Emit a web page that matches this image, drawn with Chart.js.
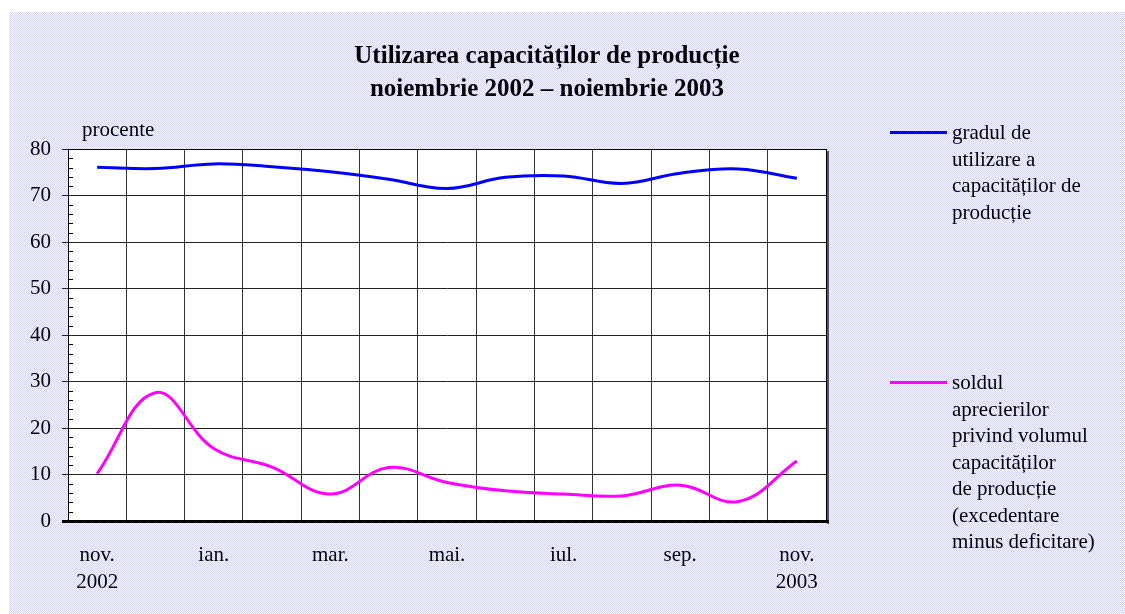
<!DOCTYPE html>
<html>
<head>
<meta charset="utf-8">
<script src="https://cdn.jsdelivr.net/npm/chart.js@4.4.0/dist/chart.umd.min.js"></script>
<style>
  html, body { margin: 0; padding: 0; background: #ffffff; }
  #wrap { position: relative; width: 1125px; height: 614px; overflow: hidden; }
  #bg { position: absolute; left: 9px; top: 12px; width: 1116px; height: 602px;
        background: repeating-conic-gradient(#d6d6f4 0 25%, #f6f6ff 0 50%) 0 0 / 2px 2px; }
  #c { position: absolute; left: 0; top: 0; }
  .t { position: absolute; font-family: "Liberation Serif", "Times New Roman", serif; color: #000; white-space: nowrap; }
  #title { left: 0; width: 1094px; top: 38px; text-align: center; font-weight: bold; font-size: 25px; line-height: 33px; }
  #proc { left: 82px; top: 117px; font-size: 21px; }
  .leg { left: 952px; font-size: 21px; line-height: 26.5px; }
  .sw { position: absolute; left: 890px; width: 57px; height: 3px; }
</style>
</head>
<body>
<div id="wrap">
  <div id="bg"></div>
  <canvas id="c" width="1125" height="614"></canvas>
  <div class="t" id="title">Utilizarea capacităților de producție<br>noiembrie 2002 – noiembrie 2003</div>
  <div class="t" id="proc">procente</div>
  <div class="sw" style="top:131px;background:#0000ff"></div>
  <div class="t leg" style="top:119px">gradul de<br>utilizare a<br>capacităților de<br>producție</div>
  <div class="sw" style="top:381px;background:#ff00ff"></div>
  <div class="t leg" style="top:369px">soldul<br>aprecierilor<br>privind volumul<br>capacităților<br>de producție<br>(excedentare<br>minus deficitare)</div>
</div>
<script>
const categories = ['nov. 2002','dec.','ian.','feb.','mar.','apr.','mai.','iun.','iul.','aug.','sep.','oct.','nov. 2003'];
const tickLabels = [['nov.','2002'],'', 'ian.','', 'mar.','', 'mai.','', 'iul.','', 'sep.','', ['nov.','2003']];
const utilizare = [76.1, 75.8, 76.8, 76.2, 75.1, 73.5, 71.5, 73.9, 74.2, 72.6, 74.8, 75.7, 73.7];
const sold = [10.2, 27.6, 15.6, 11.6, 5.8, 11.5, 8.3, 6.5, 5.8, 5.4, 7.7, 4.2, 12.9];
const yMin = 0, yMax = 80, yStep = 10, yMinorStep = 2;

const framePlugin = {
  id: 'frame',
  beforeDraw(chart) {
    const a = chart.chartArea, ctx = chart.ctx;
    ctx.save();
    ctx.fillStyle = '#ffffff';
    ctx.fillRect(a.left, a.top, a.right - a.left, a.bottom - a.top);
    ctx.restore();
  },
  afterDatasetsDraw(chart) {
    const a = chart.chartArea, ctx = chart.ctx, y = chart.scales.y;
    ctx.save();
    ctx.strokeStyle = '#000';
    ctx.lineWidth = 1;
    ctx.strokeRect(a.left + 0.5, a.top + 0.5, a.right - a.left, a.bottom - a.top);
    ctx.fillStyle = '#555';
    ctx.fillRect(a.right + 1, a.top + 2, 2, a.bottom - a.top + 1);
    ctx.fillStyle = '#000';
    ctx.fillRect(a.left - 6, a.bottom - 1, a.right - a.left + 9, 3);
    ctx.beginPath();
    for (let v = yMin; v <= yMax; v += yMinorStep) {
      if (v % yStep === 0) continue;
      const py = Math.round(y.getPixelForValue(v)) + 0.5;
      ctx.moveTo(a.left, py);
      ctx.lineTo(a.left + 5, py);
    }
    ctx.stroke();
    ctx.restore();
  }
};

new Chart(document.getElementById('c'), {
  type: 'line',
  data: {
    labels: categories,
    datasets: [
      { label: 'gradul de utilizare a capacităților de producție', data: utilizare,
        borderColor: '#0000ff', borderWidth: 3, pointRadius: 0, tension: 0.4, fill: false },
      { label: 'soldul aprecierilor privind volumul capacităților de producție (excedentare minus deficitare)', data: sold,
        borderColor: '#ff00ff', borderWidth: 3, pointRadius: 0, tension: 0.4, fill: false }
    ]
  },
  options: {
    responsive: false,
    animation: false,
    devicePixelRatio: 1,
    layout: { padding: { top: 149, right: 299, bottom: 0, left: 0 } },
    plugins: { legend: { display: false }, title: { display: false }, tooltip: { enabled: false } },
    scales: {
      x: {
        type: 'category',
        offset: true,
        afterFit(s) { s.height = 93; },
        grid: { offset: true, color: '#333', lineWidth: 1, drawTicks: false },
        border: { display: false },
        ticks: {
          autoSkip: false, maxRotation: 0, minRotation: 0, padding: 21,
          color: '#000', font: { family: 'Liberation Serif', size: 21, lineHeight: 1.3 },
          callback: (v, i) => tickLabels[i]
        }
      },
      y: {
        min: yMin, max: yMax,
        afterFit(s) { s.width = 68; },
        grid: { color: '#222', lineWidth: 1, tickLength: 6 },
        border: { display: true, color: '#000', width: 1 },
        ticks: { stepSize: yStep, padding: 11, color: '#000', font: { family: 'Liberation Serif', size: 21 } }
      }
    }
  },
  plugins: [framePlugin]
});
</script>
</body>
</html>
